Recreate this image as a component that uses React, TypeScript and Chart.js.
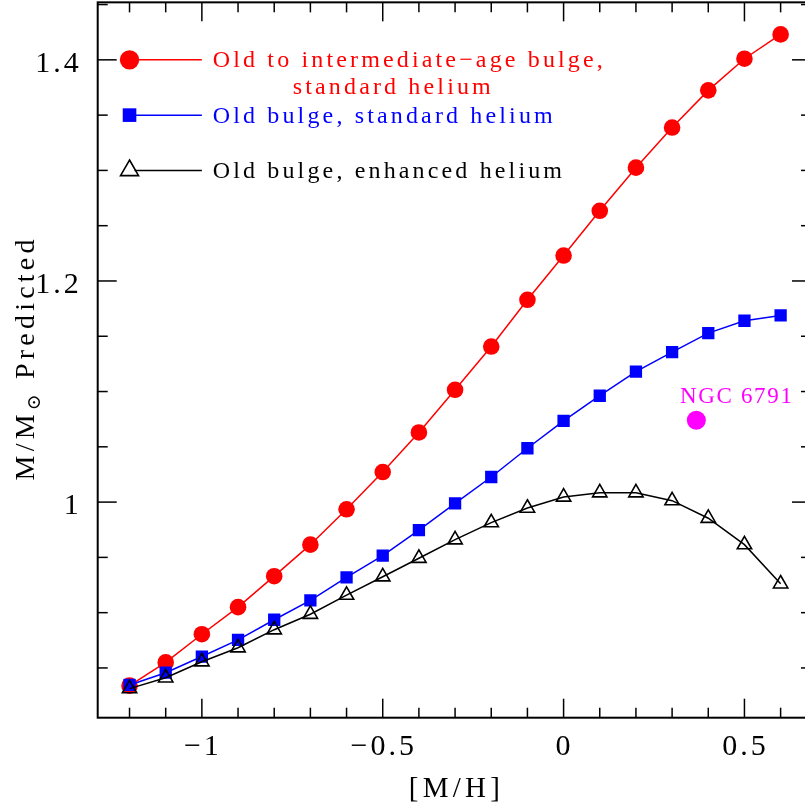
import { useEffect, useRef } from "react";
import { Chart, registerables } from "chart.js";

Chart.register(...registerables);

// ---- data ----
const METALLICITY = [-1.2, -1.1, -1.0, -0.9, -0.8, -0.7, -0.6, -0.5, -0.4, -0.3, -0.2, -0.1, 0, 0.1, 0.2, 0.3, 0.4, 0.5, 0.6];
const MASS_OLD_INTERMEDIATE = [0.834, 0.855, 0.8805, 0.905, 0.933, 0.9615, 0.9935, 1.0272, 1.063, 1.1016, 1.1407, 1.183, 1.223, 1.2635, 1.3025, 1.3388, 1.3724, 1.401, 1.423];
const MASS_OLD_STANDARD = [0.8346, 0.8457, 0.8603, 0.8754, 0.8936, 0.9111, 0.932, 0.9516, 0.9746, 0.9988, 1.0227, 1.0487, 1.0735, 1.0962, 1.118, 1.1356, 1.1528, 1.164, 1.1688];
const MASS_OLD_ENHANCED = [0.8313, 0.8411, 0.8556, 0.8683, 0.8846, 0.8986, 0.9159, 0.9325, 0.9492, 0.966, 0.9814, 0.9946, 1.0046, 1.0085, 1.0085, 1.0013, 0.9854, 0.9615, 0.9261];
const NGC6791_X = [0.367];
const NGC6791_Y = [1.074];

const SERIES_LABELS = [
  "Old to intermediate\u2212age bulge,",
  "standard helium",
  "Old bulge, standard helium",
  "Old bulge, enhanced helium",
];
const NGC_LABEL = "NGC 6791";
const X_TITLE = "[M/H]";

const X_MIN = -1.288;
const X_MAX = 0.684;
const Y_MIN = 0.805;
const Y_MAX = 1.452;

const X_MAJOR_TICKS = [-1, -0.5, 0, 0.5];
const X_MINOR_TICKS = [-1.2, -1.1, -0.9, -0.8, -0.7, -0.6, -0.4, -0.3, -0.2, -0.1, 0.1, 0.2, 0.3, 0.4, 0.6];
const Y_MAJOR_TICKS = [1, 1.2, 1.4];
const Y_MINOR_TICKS = [0.85, 0.9, 0.95, 1.05, 1.1, 1.15, 1.25, 1.3, 1.35, 1.45];

// legend anchors in data units
const LEGEND_MARK_X = -1.2;
const LEGEND_LINE_END_X = -1.0;
const LEGEND_TEXT_X = -0.97;
const LEGEND_ROWS_Y = [1.4, 1.35, 1.3];

const FONT = '"Liberation Serif", "DejaVu Serif", serif';

const fmt = (v: number) => {
  const s = String(Math.abs(v));
  return v < 0 ? "\u2212" + s : s;
};

function spacedWidth(ctx: CanvasRenderingContext2D, text: string, s: number) {
  let w = 0;
  for (const ch of text) w += ctx.measureText(ch).width + s;
  return w - s;
}
function drawSpaced(ctx: CanvasRenderingContext2D, text: string, x: number, y: number, s: number) {
  let cx = x;
  for (const ch of text) {
    ctx.fillText(ch, cx, y);
    cx += ctx.measureText(ch).width + s;
  }
  return cx - s;
}

const decorPlugin = {
  id: "decor",
  beforeDraw(chart: any) {
    chart.ctx.letterSpacing = "3px";
  },
  afterDraw(chart: any) {
    const ctx: CanvasRenderingContext2D = chart.ctx;
    ctx.letterSpacing = "0px";
    const { left, top, right, bottom } = chart.chartArea;
    const xs = chart.scales.x;
    const ys = chart.scales.y;
    ctx.save();
    // ticks
    ctx.strokeStyle = "#000";
    ctx.lineWidth = 1.5;
    const seg = (x1: number, y1: number, x2: number, y2: number) => {
      ctx.beginPath();
      ctx.moveTo(x1, y1);
      ctx.lineTo(x2, y2);
      ctx.stroke();
    };
    const xt = (vals: number[], len: number) =>
      vals.forEach((v) => {
        const p = xs.getPixelForValue(v);
        seg(p, bottom, p, bottom - len);
        seg(p, top, p, top + len);
      });
    const yt = (vals: number[], len: number) =>
      vals.forEach((v) => {
        const p = ys.getPixelForValue(v);
        seg(left, p, left + len, p);
        seg(right, p, right - len, p);
      });
    xt(X_MAJOR_TICKS, 19);
    xt(X_MINOR_TICKS, 10);
    yt(Y_MAJOR_TICKS, 19);
    yt(Y_MINOR_TICKS, 10);
    // frame
    ctx.lineWidth = 2;
    ctx.strokeRect(left, top, right - left, bottom - top);

    // legend
    const mx = xs.getPixelForValue(LEGEND_MARK_X);
    const lx = xs.getPixelForValue(LEGEND_LINE_END_X);
    const tx = xs.getPixelForValue(LEGEND_TEXT_X);
    const rows = LEGEND_ROWS_Y.map((v) => ys.getPixelForValue(v));
    ctx.font = `24px ${FONT}`;
    const spacing = (340 - spacedWidth(ctx, SERIES_LABELS[2], 0)) / (SERIES_LABELS[2].length - 1);
    ctx.textBaseline = "alphabetic";
    ctx.textAlign = "left";
    // red
    ctx.strokeStyle = "#ff0000";
    ctx.lineWidth = 1.5;
    seg(mx, rows[0], lx, rows[0]);
    ctx.fillStyle = "#ff0000";
    ctx.beginPath();
    ctx.arc(mx, rows[0], 9.7, 0, Math.PI * 2);
    ctx.fill();
    drawSpaced(ctx, SERIES_LABELS[0], tx, rows[0] + 7.5, spacing);
    drawSpaced(ctx, SERIES_LABELS[1], tx + 80, rows[0] + 34.4, spacing);
    // blue
    ctx.strokeStyle = "#0000ff";
    seg(mx, rows[1], lx, rows[1]);
    ctx.fillStyle = "#0000ff";
    ctx.fillRect(mx - 6.8, rows[1] - 6.8, 13.6, 13.6);
    drawSpaced(ctx, SERIES_LABELS[2], tx, rows[1] + 7.5, spacing);
    // black
    ctx.strokeStyle = "#000";
    seg(mx + 5, rows[2], lx, rows[2]);
    ctx.lineWidth = 1.6;
    const r = 10.4;
    ctx.beginPath();
    ctx.moveTo(mx, rows[2] - r);
    ctx.lineTo(mx + r * 0.866, rows[2] + r / 2);
    ctx.lineTo(mx - r * 0.866, rows[2] + r / 2);
    ctx.closePath();
    ctx.stroke();
    ctx.fillStyle = "#000";
    drawSpaced(ctx, SERIES_LABELS[3], tx, rows[2] + 7.5, spacing);

    // NGC 6791 label
    const nx = xs.getPixelForValue(NGC6791_X[0]);
    const ny = ys.getPixelForValue(NGC6791_Y[0]);
    ctx.fillStyle = "#ff00ff";
    ctx.font = `23px ${FONT}`;
    const ns = (112 - spacedWidth(ctx, NGC_LABEL, 0)) / (NGC_LABEL.length - 1);
    drawSpaced(ctx, NGC_LABEL, nx - 16.4, ny - 17, ns);

    // x title
    ctx.fillStyle = "#000";
    ctx.font = `29px ${FONT}`;
    const xsp = (91 - spacedWidth(ctx, X_TITLE, 0)) / (X_TITLE.length - 1);
    const xw = spacedWidth(ctx, X_TITLE, xsp);
    ctx.textBaseline = "alphabetic";
    drawSpaced(ctx, X_TITLE, (left + right) / 2 - xw / 2, 797, xsp);

    // y title with subscript sun symbol
    const parts = [
      { t: "M/M", size: 28, dy: 0 },
      { t: "\u2299", size: 19, dy: 6 },
      { t: " Predicted", size: 28, dy: 0 },
    ];
    const ysp = 4.2;
    let total = 0;
    parts.forEach((p, i) => {
      ctx.font = `${p.size}px ${FONT}`;
      total += spacedWidth(ctx, p.t, ysp) + (i < parts.length - 1 ? ysp : 0);
    });
    ctx.translate(34, (top + bottom) / 2);
    ctx.rotate(-Math.PI / 2);
    let cx = -total / 2;
    parts.forEach((p) => {
      ctx.font = `${p.size}px ${FONT}`;
      cx = drawSpaced(ctx, p.t, cx, p.dy, ysp) + ysp;
    });
    ctx.restore();
  },
};

const zeroPad = (s: any) => {
  s.paddingTop = 0;
  s.paddingBottom = 0;
  s.paddingLeft = 0;
  s.paddingRight = 0;
};

export default function App() {
  const ref = useRef<HTMLCanvasElement>(null);
  useEffect(() => {
    const canvas = ref.current!;
    const mk = (ys: number[]) => METALLICITY.map((m, i) => ({ x: m, y: ys[i] }));
    const chart = new Chart(canvas, {
      type: "scatter",
      data: {
        datasets: [
          {
            label: SERIES_LABELS[0] + " " + SERIES_LABELS[1],
            data: mk(MASS_OLD_INTERMEDIATE),
            showLine: true,
            borderColor: "#ff0000",
            borderWidth: 1.5,
            pointStyle: "circle",
            pointRadius: 8.3,
            pointBackgroundColor: "#ff0000",
            pointBorderWidth: 0,
            order: 3,
          },
          {
            label: SERIES_LABELS[2],
            data: mk(MASS_OLD_STANDARD),
            showLine: true,
            borderColor: "#0000ff",
            borderWidth: 1.5,
            pointStyle: "rect",
            pointRadius: 8.7,
            pointBackgroundColor: "#0000ff",
            pointBorderWidth: 0,
            order: 2,
          },
          {
            label: SERIES_LABELS[3],
            data: mk(MASS_OLD_ENHANCED),
            showLine: true,
            borderColor: "#000000",
            borderWidth: 1.5,
            pointStyle: "triangle",
            pointRadius: 8.3,
            pointBackgroundColor: "rgba(0,0,0,0)",
            pointBorderColor: "#000000",
            pointBorderWidth: 1.6,
            order: 1,
          },
          {
            label: NGC_LABEL,
            data: NGC6791_X.map((v, i) => ({ x: v, y: NGC6791_Y[i] })),
            showLine: false,
            pointStyle: "circle",
            pointRadius: 9.5,
            pointBackgroundColor: "#ff00ff",
            pointBorderWidth: 0,
            order: 0,
          },
        ],
      },
      options: {
        responsive: false,
        animation: false,
        events: [],
        layout: { autoPadding: false, padding: { left: 0, top: 2.35, right: 1, bottom: 0 } },
        plugins: { legend: { display: false }, tooltip: { enabled: false } },
        scales: {
          x: {
            type: "linear",
            min: X_MIN,
            max: X_MAX,
            grid: { display: false, drawTicks: false },
            border: { display: false },
            afterBuildTicks: (s: any) => {
              s.ticks = X_MAJOR_TICKS.map((value) => ({ value }));
            },
            afterFit: (s: any) => {
              s.height = 90.3;
              zeroPad(s);
            },
            ticks: {
              font: { family: FONT, size: 30 },
              color: "#000",
              padding: 11,
              labelOffset: 1,
              maxRotation: 0,
              autoSkip: false,
              callback: (v: any) => fmt(Number(v)),
            },
          },
          y: {
            type: "linear",
            min: Y_MIN,
            max: Y_MAX,
            grid: { display: false, drawTicks: false },
            border: { display: false },
            afterBuildTicks: (s: any) => {
              s.ticks = Y_MAJOR_TICKS.map((value) => ({ value }));
            },
            afterFit: (s: any) => {
              s.width = 97.7;
              zeroPad(s);
            },
            ticks: {
              font: { family: FONT, size: 30 },
              color: "#000",
              padding: 16,
              labelOffset: 4,
              autoSkip: false,
              callback: (v: any) => fmt(Number(v)),
            },
          },
        },
      },
      plugins: [decorPlugin],
    } as any);
    return () => chart.destroy();
  }, []);
  return (
    <div style={{ position: "fixed", left: 0, top: 0, width: 805, height: 808, overflow: "hidden", background: "#fff" }}>
      <canvas ref={ref} width={812} height={808} style={{ display: "block", width: 812, height: 808 }} />
    </div>
  );
}
